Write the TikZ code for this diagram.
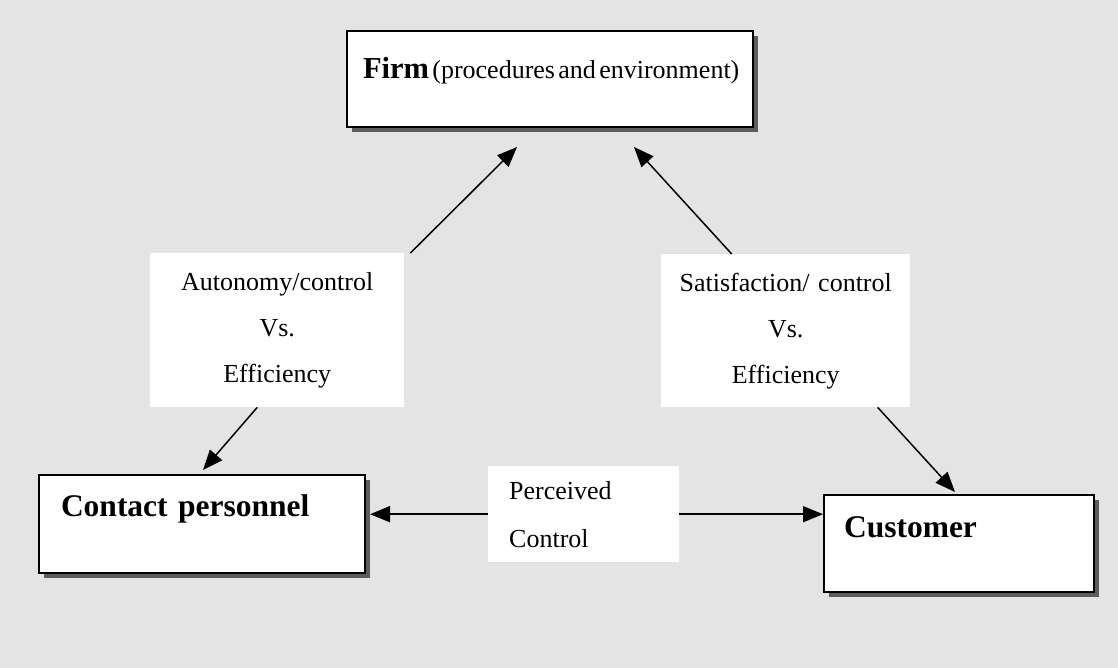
\documentclass[tikz,border=0pt]{standalone}
\usepackage{fontspec}
\setmainfont{Liberation Serif}
\usetikzlibrary{arrows.meta,shadows,calc}
\definecolor{pagegrey}{HTML}{E4E4E4}
\definecolor{shadegrey}{HTML}{5C5C5C}
\begin{document}
\begin{tikzpicture}[x=1pt,y=-1pt,
  box/.style={draw=black,line width=2pt,fill=white,inner ysep=0pt,align=left,
    anchor=north west,
    drop shadow={shadow xshift=5pt,shadow yshift=-5pt,fill=shadegrey,opacity=1}},
  tag/.style={fill=white,draw=none,anchor=north west,inner ysep=0pt,
    font=\fontsize{26}{46}\selectfont},
  big/.style={font=\fontsize{31.5}{36}\selectfont\bfseries},
  arr/.style={line width=1.5pt,-{Triangle[length=20pt,width=16pt]}}]
  % page
  \fill[pagegrey] (0,0) rectangle (1118,668);
  \useasboundingbox (0,0) rectangle (1118,668);

  % the three actors
  \node[box,text width=406pt,inner xsep=0pt,text height=48pt,text depth=48pt]
    (firm) at (346,30)
    {\hspace*{16pt}{\fontsize{30.5}{36}\selectfont\bfseries Firm} {\fontsize{26}{30}\selectfont(procedures and environment)}};
  \node[box,big,text width=282pt,inner xsep=22pt,text height=41pt,text depth=57pt]
    (cp) at (38,474) {Contact personnel};
  \node[box,big,text width=230pt,inner xsep=20pt,text height=42pt,text depth=55pt]
    (cu) at (823,494) {Customer};

  % tension labels
  \node[tag,text width=254pt,inner xsep=0pt,minimum height=154pt,align=center]
    (autL) at (150,253) {Autonomy/control\\Vs.\\Efficiency};
  \node[tag,text width=249pt,inner xsep=0pt,minimum height=153pt,align=center]
    (satL) at (661,254) {Satisfaction/ control\\Vs.\\Efficiency};
  \node[tag,text width=149pt,inner xsep=21pt,minimum height=96pt,align=left,
    font=\fontsize{26}{48}\selectfont]
    (pc) at (488,466) {Perceived\\Control};

  % arrow tips
  \coordinate (tFirmL) at (517,147);
  \coordinate (tFirmR) at (634,147);
  \coordinate (tCP) at (203,470);
  \coordinate (tCu) at (955,492);

  % connectors
  \draw[arr] ([xshift=6pt]autL.north east) -- (tFirmL);
  \draw[arr] ([xshift=-20pt]autL.south) -- (tCP);
  \draw[arr] ([xshift=-54pt]satL.north) -- (tFirmR);
  \draw[arr] ([xshift=92pt]satL.south) -- (tCu);
  \draw[arr] (pc.west) -- ($(pc.west -| cp.east)+(4,0)$);
  \draw[arr] (pc.east) -- (pc.east -| cu.west);
\end{tikzpicture}
\end{document}
